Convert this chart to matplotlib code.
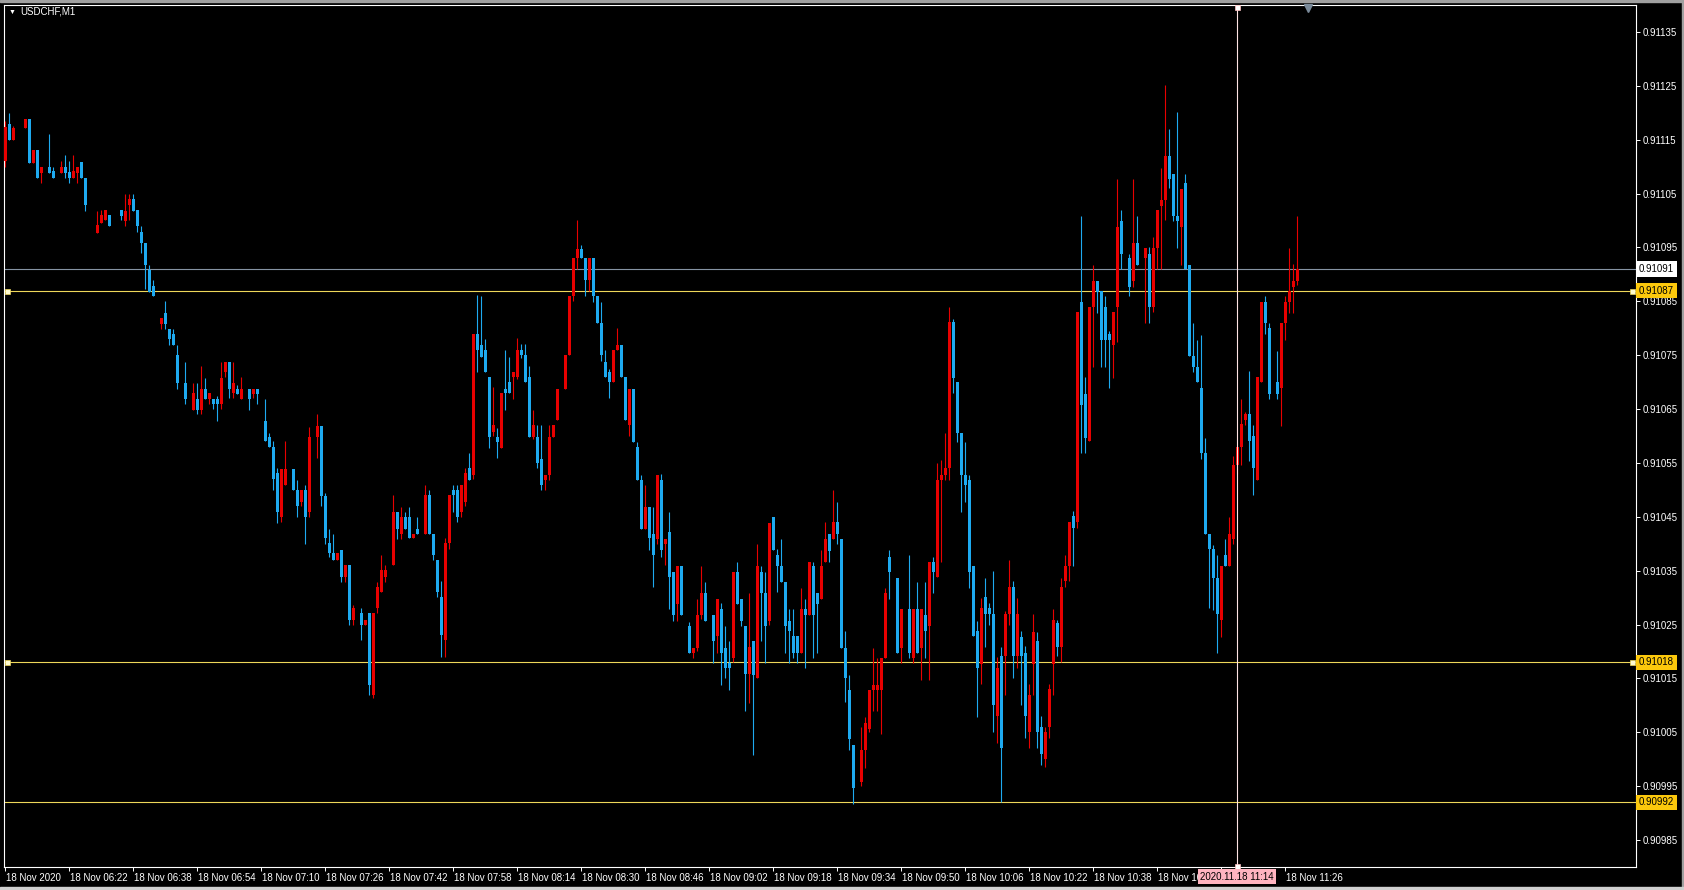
import matplotlib
matplotlib.use("Agg")
import matplotlib.pyplot as plt
from matplotlib.transforms import blended_transform_factory, ScaledTranslation
from matplotlib.patches import Rectangle

plt.rcParams['font.family'] = ['Liberation Sans', 'DejaVu Sans']

SYMBOL = "USDCHF,M1"
BASE = 0.91000      # prices below are in points (1e-5) above BASE
PT = 0.00001

OPEN = [
    111.0, 118.0, 115.0, None, None, 117.1, 118.8, 110.7, 113.0, 108.9,
    None, 110.0, 109.1, None, 108.9, 110.0, 109.0, 107.8, 108.9, 110.9,
    107.8, None, None, 97.7, 99.5, 100.0, 101.1, None, None, 101.9,
    99.9, 102.8, 103.9, 101.9, 97.9, 95.9, 90.8, 87.9, None, 80.8,
    82.9, 79.9, 78.9, 75.1, None, 69.9, None, 64.8, 66.9, 64.8,
    68.7, 66.9, 66.9, 66.9, 65.9, 71.9, 73.7, 68.0, 68.7, 66.9,
    None, 68.7, 67.8, 68.7, None, 62.8, 59.8, 58.0, 53.1, 44.9,
    50.9, None, 53.8, 49.9, 47.7, 49.9, 45.9, None, 59.8, 61.9,
    48.8, 40.1, 38.2, 37.0, 38.8, 33.9, 36.0, 25.8, None, 27.1,
    24.9, 27.1, 11.9, 28.0, 31.1, 33.9, None, 36.0, 45.9, 41.9,
    45.0, 45.0, 41.0, 42.8, None, 41.9, 49.0, 41.9, 37.0, 30.2,
    22.1, 40.1, 50.0, 50.0, 45.9, 47.8, 54.0, 52.7, 79.0, 76.9,
    76.0, 71.0, 60.8, 59.9, 57.7, 68.8, 70.1, 70.9, 71.0, 76.0,
    75.0, 71.0, 59.9, 59.9, 55.8, 51.8, 52.7, 59.9, 63.0, None,
    68.8, 75.0, 85.9, 93.0, 94.8, 93.0, 88.9, 93.0, 85.9, 80.9,
    73.8, 71.9, 70.1, 76.0, 76.9, 71.0, 62.0, 68.8, 58.0, 51.8,
    42.8, 46.9, 41.9, 40.8, 51.8, 39.9, 42.1, 34.8, 28.9, 35.8,
    None, 24.8, 19.7, 20.7, 26.7, 30.8, None, 26.7, 22.9, 27.9,
    20.7, 17.8, 18.8, 34.8, 29.8, 24.8, 15.9, 21.9, 15.0, 34.8,
    30.8, 25.7, 44.9, 38.0, 35.8, 32.9, 25.7, 22.9, 22.9, 19.7,
    27.9, 26.7, 35.8, 30.8, 29.8, 36.7, 41.8, 40.8, 44.0, 40.8,
    20.7, 12.8, 2.7, None, -4.2, 1.8, 5.6, 12.8, 12.8, 12.8,
    18.8, 37.6, None, 33.6, 20.7, None, 27.9, 18.8, 27.9, 20.7,
    26.7, 24.8, 36.7, 33.9, 51.8, 52.8, 54.0, 81.1, 70.1, 60.6,
    52.8, 51.8, 35.8, 23.8, 17.7, 30.1, 28.0, 26.9, 8.0, 19.1,
    19.1, 26.9, 31.9, 19.1, 22.7, 19.8, 5.0, 17.7, 21.9, 6.0,
    0.0, 6.0, 17.7, 25.2, 20.9, 33.0, 35.8, 45.1, 44.0, 84.9,
    67.8, 59.0, 83.9, 88.8, 87.0, 83.9, 78.9, 76.8, 83.9, 99.9,
    None, 93.1, 88.8, 95.9, None, 93.1, 93.8, 83.9, 94.9, 102.7,
    103.8, 111.9, 108.7, 100.9, 98.8, 107.0, 91.7, 74.9, 72.8, 68.9,
    56.8, 41.9, 39.0, 33.7, 25.9, 38.0, 35.8, 40.8, 54.7, 57.9,
    63.0, 64.0, 60.0, 51.9, 70.0, 84.9, 80.0, None, 70.0, 68.9,
    81.0, 84.9, 87.7, 88.8,
]
HIGH = [
    118.5, 119.9, 117.6, None, None, 118.8, 118.8, 113.0, 113.0, 110.0,
    None, 116.0, 109.9, None, 111.0, 112.1, 111.0, 112.1, 110.0, 110.9,
    107.8, None, None, 101.8, 102.0, 101.9, 101.1, None, None, 101.9,
    105.0, 105.0, 105.0, 101.9, 98.9, 95.9, 91.8, 89.0, None, 81.9,
    85.1, 79.9, 79.9, 76.9, None, 73.7, None, 69.8, 69.8, 73.0,
    70.8, 68.0, 66.9, 67.5, 73.7, 73.7, 73.7, 73.7, 69.5, 71.0,
    None, 68.7, 68.7, 68.7, None, 66.9, 60.5, 59.1, 54.0, 53.8,
    59.1, None, 53.8, 51.8, 49.9, 50.9, 61.6, None, 64.1, 61.9,
    49.5, 42.8, 41.9, 38.2, 38.8, 36.0, 36.0, 28.7, None, 28.0,
    25.8, 27.1, 27.1, 32.9, 37.9, 36.0, None, 49.0, 45.9, 46.9,
    45.9, 46.9, 41.9, 44.9, None, 50.9, 49.9, 41.9, 37.0, 33.0,
    41.0, 49.0, 50.9, 50.9, 50.9, 54.0, 56.8, 79.0, 86.2, 85.9,
    78.0, 71.0, 69.1, 61.5, 67.9, 75.9, 74.7, 71.9, 78.1, 77.0,
    77.0, 73.0, 64.8, 62.0, 62.0, 52.7, 62.0, 62.0, 68.8, None,
    75.0, 85.9, 93.0, 100.1, 95.5, 93.0, 93.0, 93.0, 85.9, 84.9,
    75.9, 72.5, 76.0, 80.0, 76.9, 71.0, 68.8, 68.8, 58.9, 52.7,
    50.9, 46.9, 46.8, 52.8, 53.0, 40.8, 45.9, 34.8, 35.8, 35.8,
    None, 25.5, 20.7, 29.8, 35.8, 32.9, None, 26.7, 29.8, 29.0,
    24.8, 22.0, 34.8, 36.7, 29.8, 24.8, 30.8, 21.9, 40.0, 35.8,
    34.8, 43.9, 44.9, 39.0, 40.8, 32.9, 27.9, 27.9, 22.9, 31.7,
    29.8, 36.7, 36.7, 30.8, 38.9, 44.0, 41.8, 49.9, 47.7, 40.8,
    23.8, 15.6, 2.7, None, 5.9, 7.8, 12.8, 20.7, 18.8, 18.8,
    31.7, 38.9, None, 33.6, 27.9, None, 38.0, 27.9, 32.9, 27.9,
    32.9, 36.7, 37.6, 54.9, 55.6, 60.6, 83.9, 81.7, 70.1, 60.6,
    58.8, 52.8, 35.8, 25.7, 30.0, 33.6, 29.0, 34.9, 19.0, 20.9,
    27.5, 36.9, 33.0, 30.0, 23.8, 21.0, 14.0, 26.9, 23.7, 8.0,
    6.0, 14.0, 27.9, 25.9, 33.7, 37.9, 44.0, 46.0, 83.1, 100.9,
    71.0, 83.9, 91.7, 88.8, 87.0, 86.0, 79.5, 83.1, 107.7, 102.0,
    None, 93.8, 107.7, 100.9, None, 94.9, 95.0, 97.0, 102.0, 109.8,
    125.1, 116.9, 108.7, 120.1, 105.9, 108.7, 91.7, 81.0, 77.8, 78.8,
    59.7, 41.9, 39.7, 37.9, 35.8, 40.8, 44.9, 56.2, 57.9, 66.8,
    64.5, 72.1, 62.0, 71.0, 84.9, 86.0, 81.0, None, 75.7, 81.0,
    86.0, 94.9, 92.0, 100.9,
]
LOW = [
    110.0, 115.0, 115.0, None, None, 117.1, 110.7, 110.7, 107.8, 106.9,
    None, 108.9, 107.8, None, 108.9, 107.8, 106.9, 107.8, 106.9, 107.8,
    101.8, None, None, 97.7, 99.5, 100.0, 98.9, None, None, 100.0,
    99.0, 100.0, 101.8, 97.9, 94.0, 87.2, 86.8, 86.0, None, 79.9,
    79.9, 76.9, 76.9, 68.7, None, 65.9, None, 64.8, 64.1, 64.1,
    66.9, 65.9, 65.0, 62.8, 65.0, 71.0, 67.0, 67.0, 67.8, 66.9,
    None, 64.8, 67.0, 65.9, None, 59.1, 58.0, 49.9, 43.8, 44.0,
    50.9, None, 49.9, 45.0, 47.0, 39.9, 45.0, None, 55.9, 47.0,
    39.9, 37.5, 37.0, 37.0, 32.9, 32.9, 24.9, 24.9, None, 22.1,
    24.9, 11.9, 11.3, 27.1, 31.1, 32.9, None, 36.0, 40.9, 40.9,
    42.8, 41.0, 41.0, 41.9, None, 41.9, 41.9, 37.0, 30.2, 19.0,
    19.0, 39.0, 45.9, 44.0, 45.0, 47.0, 51.8, 52.0, 71.9, 74.7,
    71.9, 57.7, 60.0, 55.9, 57.7, 64.8, 67.9, 66.9, 70.5, 74.5,
    70.1, 59.9, 59.5, 54.0, 50.0, 50.0, 51.8, 59.9, 63.0, None,
    68.8, 75.0, 85.0, 91.0, 93.0, 85.9, 87.0, 84.9, 80.9, 74.0,
    71.0, 67.0, 70.1, 76.0, 71.0, 63.0, 60.0, 58.9, 51.8, 42.8,
    42.8, 38.8, 32.0, 40.0, 37.5, 36.0, 27.9, 25.7, 25.7, 26.7,
    None, 19.7, 18.8, 20.0, 26.0, 25.7, None, 17.8, 19.7, 13.8,
    15.0, 12.8, 18.0, 28.9, 24.8, 9.0, 10.4, 0.8, 15.0, 22.0,
    17.8, 25.0, 38.9, 31.1, 32.9, 19.7, 17.8, 18.8, 17.8, 19.7,
    16.9, 26.7, 18.8, 19.7, 29.8, 36.7, 36.7, 40.8, 39.9, 20.7,
    10.6, 1.8, -8.3, None, -5.0, -1.6, 5.0, 9.0, 9.0, 4.6,
    18.8, 29.8, None, 19.7, 17.8, None, 18.8, 17.8, 19.7, 14.7,
    18.8, 14.7, 30.8, 33.9, 36.7, 51.8, 51.8, 67.9, 58.8, 45.9,
    47.7, 31.7, 22.9, 7.8, 14.0, 20.9, 25.0, 5.0, 3.0, -8.0,
    12.0, 25.0, 15.0, 17.0, 10.0, 4.0, 2.0, 12.0, 2.0, -1.0,
    -1.5, 4.0, 12.0, 19.1, 18.0, 31.9, 33.0, 35.8, 43.0, 56.9,
    56.8, 59.0, 72.8, 82.8, 72.8, 72.8, 68.9, 70.7, 77.5, 91.0,
    None, 86.0, 87.7, 91.7, None, 81.0, 81.0, 83.0, 91.0, 91.0,
    100.0, 106.0, 99.9, 94.9, 91.7, 91.0, 74.9, 71.8, 70.0, 55.8,
    41.9, 28.0, 27.7, 19.8, 22.7, 35.8, 35.8, 40.0, 53.0, 54.7,
    62.0, 55.4, 49.0, 51.9, 70.0, 78.9, 66.8, None, 66.8, 61.8,
    77.8, 82.8, 82.8, 88.0,
]
CLOSE = [
    117.4, 115.0, 117.1, None, None, 118.8, 110.7, 113.0, 107.8, 110.0,
    None, 108.9, 107.8, None, 110.0, 108.9, 107.8, 109.1, 110.0, 107.8,
    102.8, None, None, 99.1, 101.1, 101.9, 98.9, None, None, 100.9,
    101.8, 103.9, 101.8, 98.9, 95.9, 91.8, 86.8, 86.0, None, 81.9,
    80.8, 78.0, 76.9, 69.8, None, 66.9, None, 68.0, 64.8, 68.7,
    66.9, 68.0, 65.9, 65.9, 70.8, 73.7, 68.7, 69.8, 67.8, 68.7,
    None, 66.9, 68.7, 67.8, None, 59.1, 58.0, 52.0, 45.9, 53.8,
    53.8, None, 49.9, 47.0, 49.9, 44.9, 59.8, None, 61.9, 48.8,
    41.0, 38.2, 37.0, 38.2, 33.9, 36.0, 25.8, 28.0, None, 24.9,
    25.8, 13.8, 27.1, 32.0, 35.1, 35.1, None, 45.9, 42.8, 45.0,
    42.8, 41.0, 41.9, 41.9, None, 49.0, 41.9, 37.9, 31.1, 23.0,
    40.1, 49.0, 49.0, 45.0, 50.9, 53.1, 51.8, 79.0, 76.0, 74.7,
    71.9, 59.9, 62.0, 58.9, 67.9, 67.9, 67.9, 71.9, 76.0, 75.0,
    70.1, 59.9, 62.0, 54.9, 50.9, 52.7, 59.9, 62.0, 68.8, None,
    75.0, 85.9, 93.0, 94.8, 93.0, 88.9, 93.0, 85.9, 80.9, 75.0,
    71.0, 70.1, 76.0, 76.9, 71.0, 63.0, 68.8, 58.9, 51.8, 42.8,
    46.9, 41.0, 37.9, 52.8, 38.9, 40.8, 33.9, 26.7, 35.8, 26.7,
    None, 19.7, 20.7, 26.7, 30.8, 25.7, None, 21.9, 29.8, 19.7,
    16.9, 16.9, 34.8, 28.9, 25.7, 15.9, 20.9, 15.6, 35.8, 30.8,
    24.8, 43.9, 38.9, 35.8, 32.9, 24.8, 23.8, 19.7, 19.7, 27.9,
    26.7, 36.7, 26.7, 28.9, 35.8, 40.8, 38.6, 44.0, 41.8, 20.7,
    15.0, 3.7, -5.4, None, 1.8, 6.8, 12.8, 13.8, 13.8, 18.8,
    30.8, 34.8, None, 19.7, 27.9, None, 19.7, 27.9, 19.7, 27.9,
    23.8, 36.7, 34.8, 51.8, 52.8, 54.0, 81.1, 70.7, 60.6, 52.8,
    50.9, 34.8, 22.9, 16.9, 28.0, 26.9, 26.9, 10.0, 17.0, 2.0,
    26.9, 31.9, 19.1, 26.9, 19.1, 8.0, 12.0, 23.7, 5.0, 1.0,
    5.0, 13.0, 25.9, 20.9, 31.9, 35.8, 44.0, 43.0, 83.1, 65.7,
    59.7, 83.9, 88.8, 86.7, 77.8, 77.8, 77.8, 83.1, 98.8, 93.8,
    None, 87.7, 95.9, 91.7, None, 94.9, 83.9, 94.9, 102.0, 103.8,
    111.9, 107.7, 100.9, 99.9, 105.9, 91.0, 74.9, 72.8, 70.0, 56.8,
    41.9, 39.0, 33.7, 26.9, 35.8, 35.8, 41.9, 54.7, 57.9, 62.2,
    64.0, 59.0, 54.0, 71.0, 84.9, 81.0, 67.8, None, 67.8, 81.0,
    84.9, 87.0, 88.8, 91.0,
]

TIME_LABELS = ["18 Nov 2020", "18 Nov 06:22", "18 Nov 06:38", "18 Nov 06:54",
               "18 Nov 07:10", "18 Nov 07:26", "18 Nov 07:42", "18 Nov 07:58",
               "18 Nov 08:14", "18 Nov 08:30", "18 Nov 08:46", "18 Nov 09:02",
               "18 Nov 09:18", "18 Nov 09:34", "18 Nov 09:50", "18 Nov 10:06",
               "18 Nov 10:22", "18 Nov 10:38", "18 Nov 10:54", "18 Nov 11:10",
               "18 Nov 11:26"]
LABEL_STEP = 16  # bars between time labels
HIDDEN_LABELS = ["18 Nov 11:10"]   # covered by the crosshair time box

PRICE_TICKS = [0.90985, 0.90995, 0.91005, 0.91015, 0.91025, 0.91035, 0.91045,
               0.91055, 0.91065, 0.91075, 0.91085, 0.91095, 0.91105, 0.91115,
               0.91125, 0.91135]
Y_RANGE = (0.90980, 0.91140)

BID_LEVEL = 0.91091
LEVELS = [0.91087, 0.91018, 0.90992]
LEVEL_SELECTED = [True, True, False]

CROSS_BAR = 308
CROSS_LABEL = "2020.11.18 11:14"
SHIFT_BAR = 325.75

# ---------- colours ----------
BG = "black"
UP = "#e80000"
DOWN = "#1eaaf0"
FG = "white"
LEVEL_COL = "#eed75a"
LEVEL_BOX = "#fcc80c"
BID_COL = "#8593a3"

W, H = 1684, 890
fig = plt.figure(figsize=(W / 100, H / 100), dpi=100, facecolor=BG)
AX_L, AX_R, AX_T, AX_B = 4, 1636, 5, 867
ax = fig.add_axes([AX_L / W, 1 - AX_B / H, (AX_R - AX_L) / W, (AX_B - AX_T) / H])
ax.set_facecolor(BG)
bar_px = 4.0
ax.set_xlim(-0.25, -0.25 + (AX_R - AX_L) / bar_px)
ax.set_ylim(*Y_RANGE)

def price(v):
    return BASE + v * PT

# ---------- candles ----------
for col_sel, col in ((True, UP), (False, DOWN)):
    xs, lo, hi, bot, ht = [], [], [], [], []
    for i, (o, h, l, c) in enumerate(zip(OPEN, HIGH, LOW, CLOSE)):
        if o is None:
            continue
        if (c >= o) != col_sel:
            continue
        hh = max(h, o, c)
        ll = min(l, o, c)
        xs.append(i)
        lo.append(price(ll))
        hi.append(price(hh))
        bot.append(price(min(o, c)))
        ht.append(max(abs(c - o) * PT, 2.2e-6))
    ax.vlines(xs, lo, hi, colors=col, linewidth=0.8, zorder=3)
    ax.bar(xs, ht, bottom=bot, width=0.75, color=col, linewidth=0, zorder=4)

# ---------- horizontal lines ----------
ytrans = blended_transform_factory(ax.transAxes, ax.transData)
xtrans = blended_transform_factory(ax.transData, ax.transAxes)
axw = AX_R - AX_L
axh = AX_B - AX_T

ax.axhline(BID_LEVEL, color=BID_COL, linewidth=0.8, zorder=2)
for lvl, sel in zip(LEVELS, LEVEL_SELECTED):
    ax.axhline(lvl, color=LEVEL_COL, linewidth=0.8, zorder=2)
    if sel:
        ax.plot([3 / axw, 1 - 4 / axw], [lvl, lvl], linestyle='none', marker='s',
                markersize=3.6, markerfacecolor='#fffbd0', markeredgecolor=LEVEL_COL,
                markeredgewidth=0.5, transform=ytrans, zorder=6, clip_on=False)

# right-hand price boxes
def price_box(v, fc):
    ax.text(1 + 3 / axw, v, f"{v:.5f}", transform=ytrans, ha='left', va='center',
            fontsize=7, color='black', zorder=10, clip_on=False,
            bbox=dict(boxstyle='square,pad=0.28', fc=fc, ec='none'))

price_box(BID_LEVEL, 'white')
for lvl in LEVELS:
    price_box(lvl, LEVEL_BOX)

# ---------- vertical line (crosshair) ----------
ax.axvline(CROSS_BAR, color='#ffe4e4', linewidth=0.8, zorder=5)
ax.plot([CROSS_BAR, CROSS_BAR], [1 - 2 / axh, 1 / axh], linestyle='none', marker='s',
        markersize=3.6, markerfacecolor='#ffffff', markeredgecolor='#ffc0c0',
        markeredgewidth=0.5, transform=xtrans, zorder=6, clip_on=False)
ax.text(CROSS_BAR, -9.5 / axh, CROSS_LABEL, transform=xtrans, ha='center', va='center',
        fontsize=7, color='black', zorder=20, clip_on=False,
        bbox=dict(boxstyle='square,pad=0.25', fc='#ffb4c0', ec='none'))

# chart shift marker
ax.plot([SHIFT_BAR], [1 - 2.5 / axh], marker='v', markersize=6, color='#7a8a9a',
        transform=xtrans, zorder=6, clip_on=False)

# ---------- axes / ticks ----------
for sp in ax.spines.values():
    sp.set_color(FG)
    sp.set_linewidth(0.8)

ax.yaxis.tick_right()
ax.set_yticks(PRICE_TICKS)
ax.set_yticklabels([f"{p:.5f}" for p in PRICE_TICKS])
ax.tick_params(axis='y', direction='out', length=3, width=0.7, colors=FG,
               labelsize=7, pad=2, right=True, left=False)

xt = [k * LABEL_STEP for k in range(len(TIME_LABELS))]
ax.set_xticks(xt)
ax.set_xticklabels(["" if t in HIDDEN_LABELS else t for t in TIME_LABELS])
ax.tick_params(axis='x', direction='out', length=3, width=0.7, colors=FG,
               labelsize=7, pad=1.5, bottom=True, top=False)
off = ScaledTranslation(1.5 / 100, 0, fig.dpi_scale_trans)
for lbl in ax.get_xticklabels():
    lbl.set_horizontalalignment('left')
    lbl.set_transform(lbl.get_transform() + off)

# ---------- title ----------
fig.text(9 / W, 1 - 12 / H, "\u25BC", fontsize=5, color=FG, va='center', ha='left')
fig.text(20 / W, 1 - 12 / H, SYMBOL, fontsize=7, color=FG, va='center', ha='left')

# window frame strips
fig.patches.append(Rectangle((0, 1 - 2 / H), 1, 2 / H, transform=fig.transFigure,
                             color='#a0a0a0', zorder=0))
fig.patches.append(Rectangle((1 - 2 / W, 0), 2 / W, 1, transform=fig.transFigure,
                             color='#a0a0a0', zorder=0))
fig.patches.append(Rectangle((0, 0), 1, 3 / H, transform=fig.transFigure,
                             color='#d0d0d0', zorder=0))

fig.savefig("out.png", dpi=100, facecolor=BG)
